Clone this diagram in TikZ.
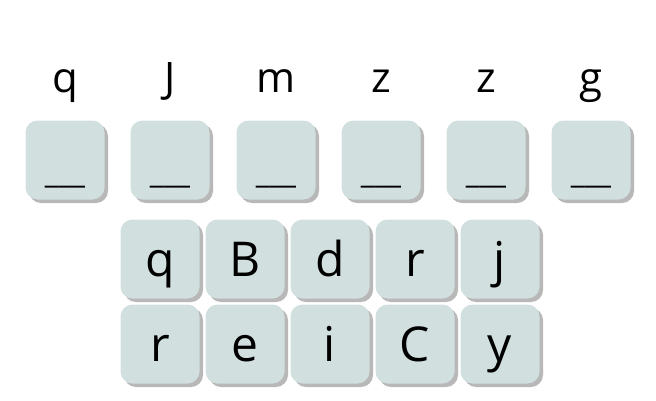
\documentclass[tikz,border=0pt]{standalone}
\usepackage{fontspec}
\setmainfont{Open Sans}
\usetikzlibrary{shadows}

\definecolor{tilefill}{RGB}{209,223,223}
\definecolor{tileshade}{RGB}{184,184,184}

\begin{document}
\begin{tikzpicture}[x=1pt,y=-1pt,
  tile/.style={rectangle, rounded corners=12pt, fill=tilefill, inner sep=0pt,
    minimum width=79pt, minimum height=79pt,
    drop shadow={shadow xshift=3.5pt, shadow yshift=-3.5pt, fill=tileshade, opacity=1}},
  tilechar/.style={tile, font=\fontsize{48}{48}\selectfont, text height=34pt, text depth=0pt},
  clue/.style={font=\fontsize{42}{42}\selectfont, anchor=base, inner sep=0pt},
  blank/.style={font=\fontsize{30}{30}\selectfont, anchor=base, inner sep=0pt}]
\useasboundingbox (0,0) rectangle (656,400);
% clue letters
\node [clue] (c1) at (65,92) {q};
\node [clue] (c2) at (170,92) {J};
\node [clue] (c3) at (276,92) {m};
\node [clue] (c4) at (381,92) {z};
\node [clue] (c5) at (486,92) {z};
\node [clue] (c6) at (591,92) {g};
% answer slots
\node [tile] (s1) at (65,160) {};
\node [tile] (s2) at (170,160) {};
\node [tile] (s3) at (276,160) {};
\node [tile] (s4) at (381,160) {};
\node [tile] (s5) at (486,160) {};
\node [tile] (s6) at (591,160) {};
\node [blank] (b1) at (65,183) {\_\_\_};
\node [blank] (b2) at (170,183) {\_\_\_};
\node [blank] (b3) at (276,183) {\_\_\_};
\node [blank] (b4) at (381,183) {\_\_\_};
\node [blank] (b5) at (486,183) {\_\_\_};
\node [blank] (b6) at (591,183) {\_\_\_};
% letter tiles
\node [tilechar] (t11) at (160,259) {q};
\node [tilechar] (t12) at (245,259) {B};
\node [tilechar] (t13) at (330,259) {d};
\node [tilechar] (t14) at (415,259) {r};
\node [tilechar] (t15) at (500,259) {j};
\node [tilechar] (t21) at (160,344) {r};
\node [tilechar] (t22) at (245,344) {e};
\node [tilechar] (t23) at (330,344) {i};
\node [tilechar] (t24) at (415,344) {C};
\node [tilechar] (t25) at (500,344) {y};
\end{tikzpicture}
\end{document}
